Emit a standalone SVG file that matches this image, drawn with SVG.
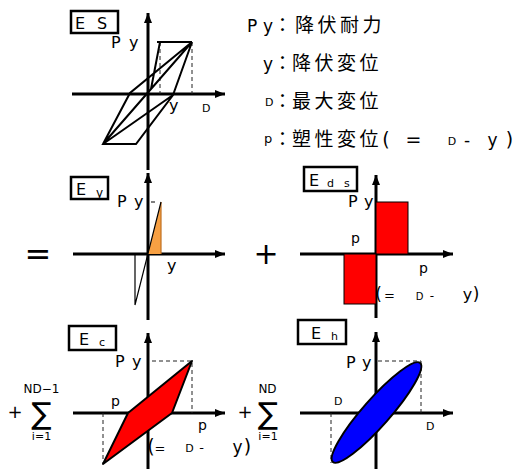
<svg xmlns="http://www.w3.org/2000/svg" width="525" height="469" viewBox="0 0 525 469">
<defs>
<marker id="arr" markerUnits="userSpaceOnUse" markerWidth="12" markerHeight="10" refX="10" refY="5" orient="auto">
<path d="M0,1 L10,5 L0,9 Z" fill="#000"/>
</marker>
<style>
.ax{stroke:#000;stroke-width:3;fill:none;marker-end:url(#arr)}
.ln{stroke:#000;stroke-width:2;fill:none}
.ds{stroke:#222;stroke-width:1;stroke-dasharray:4,3;fill:none}
.box{fill:#fff;stroke:#000;stroke-width:2.5}
.t{font-family:"DejaVu Sans",sans-serif;fill:#000}
.j{font-family:"Noto Sans CJK JP","Noto Sans CJK SC",sans-serif;fill:#000;font-size:19px;letter-spacing:3.5px}
.m{text-anchor:middle}
</style>
</defs>
<rect width="525" height="469" fill="#fff"/>

<!-- legend -->
<g id="legend">
<text class="t" x="247" y="32" font-size="17">P</text>
<text class="t" x="263" y="32" font-size="17">y</text>
<text class="j m" x="282.5" y="32" style="letter-spacing:0">：</text>
<text class="j" x="295" y="32">降伏耐力</text>
<text class="t" x="263" y="70" font-size="17">y</text>
<text class="j m" x="282.5" y="70" style="letter-spacing:0">：</text>
<text class="j" x="292" y="70">降伏変位</text>
<text class="t" x="265" y="106" font-size="11">D</text>
<text class="j m" x="282.5" y="108" style="letter-spacing:0">：</text>
<text class="j" x="292" y="108">最大変位</text>
<text class="t" x="264" y="143" font-size="13">p</text>
<text class="j m" x="282.5" y="146" style="letter-spacing:0">：</text>
<text class="j" x="292" y="146">塑性変位</text>
<text class="t m" x="386" y="146" font-size="19">(</text>
<text class="t m" x="413.5" y="146" font-size="19">=</text>
<text class="t m" x="452" y="145" font-size="11">D</text>
<text class="t m" x="467" y="146" font-size="17">-</text>
<text class="t m" x="492.5" y="146" font-size="17">y</text>
<text class="t m" x="509.5" y="146" font-size="19">)</text>
</g>

<!-- connectors: axes -->
<g id="connectors">
<path class="ax" d="M148,170 V13"/>
<path class="ax" d="M72,94 H225"/>
<path class="ax" d="M148,320 V173"/>
<path class="ax" d="M73,254 H225"/>
<path class="ax" d="M376,318 V175"/>
<path class="ax" d="M300,254 H453"/>
<path class="ax" d="M148,469 V333"/>
<path class="ax" d="M73,413 H225"/>
<path class="ax" d="M376,469 V332"/>
<path class="ax" d="M300,413 H453"/>
</g>

<!-- ES -->
<g id="ES">
<path class="ds" d="M160,42 V94 M192,42 V94"/>
<path class="ln" d="M157,42 H192 M160,42 L151,89 M192,42 L173,95 L136,144 H103 L130,93 L192,42 L103,144 L173,95"/>
<rect class="box" x="71" y="11" width="47" height="22"/>
<text class="t" x="75" y="29" font-size="16">E</text>
<text class="t" x="97" y="29" font-size="16">S</text>
<text class="t" x="111" y="48" font-size="16">P</text>
<text class="t" x="129" y="48" font-size="16">y</text>
<text class="t" x="169" y="111" font-size="16">y</text>
<text class="t" x="202" y="112" font-size="11">D</text>
</g>

<!-- Ey -->
<g id="Ey">
<polygon points="148,254 161,202 161,254" fill="#f7a043"/>
<path d="M161,202 V254" stroke="#c07020" stroke-width="1.2" fill="none"/>
<path d="M161,202 L135,305 M135,254 V305 M151,202 H155" stroke="#000" stroke-width="1.2" fill="none"/>
<rect class="box" x="71" y="177" width="37" height="22"/>
<text class="t" x="76" y="195" font-size="16">E</text>
<text class="t" x="96" y="197" font-size="12">y</text>
<text class="t" x="117" y="207" font-size="16">P</text>
<text class="t" x="134" y="207" font-size="16">y</text>
<text class="t" x="167" y="271" font-size="16">y</text>
<text class="t" x="38" y="265" font-size="32" text-anchor="middle">=</text>
</g>

<!-- Eds -->
<g id="Eds">
<rect x="376" y="202" width="32" height="52" fill="#ff0000" stroke="#000" stroke-width="1"/>
<rect x="344" y="254" width="32" height="50" fill="#ff0000" stroke="#000" stroke-width="1"/>
<rect class="box" x="304" y="167" width="53" height="24"/>
<text class="t" x="309" y="186" font-size="16">E</text>
<text class="t" x="327" y="187" font-size="11">d</text>
<text class="t" x="344" y="187" font-size="11">s</text>
<text class="t" x="348" y="207" font-size="16">P</text>
<text class="t" x="364" y="207" font-size="16">y</text>
<text class="t" x="351" y="243" font-size="14">p</text>
<text class="t" x="419" y="273" font-size="14">p</text>
<text class="t m" x="378.5" y="300" font-size="17">(</text>
<text class="t m" x="389.5" y="300" font-size="13">=</text>
<text class="t m" x="419.5" y="300" font-size="10">D</text>
<text class="t m" x="432" y="300" font-size="12">-</text>
<text class="t m" x="467.5" y="300" font-size="16">y</text>
<text class="t m" x="476" y="300" font-size="17">)</text>
<text class="t m" x="266" y="264" font-size="30">+</text>
</g>

<!-- Ec -->
<g id="Ec">
<path class="ds" d="M152,361 H192 V413 M103,413 V464"/>
<polygon points="128,413 192,361 172,413 103,464" fill="#ff0000" stroke="#000" stroke-width="2" stroke-linejoin="round"/>
<rect class="box" x="69" y="326" width="47" height="24"/>
<text class="t" x="79" y="345" font-size="16">E</text>
<text class="t" x="99" y="346" font-size="11">c</text>
<text class="t" x="115" y="367" font-size="16">P</text>
<text class="t" x="132" y="367" font-size="16">y</text>
<text class="t" x="111" y="406" font-size="14">p</text>
<text class="t" x="198" y="430" font-size="14">p</text>
<text class="t m" x="151" y="453" font-size="19">(</text>
<text class="t m" x="160" y="453" font-size="13">=</text>
<text class="t m" x="189.5" y="452" font-size="11">D</text>
<text class="t m" x="201.5" y="452" font-size="13">-</text>
<text class="t m" x="237.5" y="453" font-size="17">y</text>
<text class="t m" x="247.5" y="453" font-size="19">)</text>
<text class="t m" x="15" y="418" font-size="18">+</text>
<text class="t m" x="41.5" y="424" font-size="30">∑</text>
<text class="t m" x="41.5" y="393" font-size="12">ND−1</text>
<text class="t m" x="41.5" y="440" font-size="11">i=1</text>
</g>

<!-- Eh -->
<g id="Eh">
<path class="ds" d="M378,361 H421 V413 M331,413 V463"/>
<ellipse cx="376.5" cy="412.5" rx="66" ry="13.5" transform="rotate(-48.6 376.5 412.5)" fill="#0000ff" stroke="#000" stroke-width="2"/>
<rect class="box" x="298" y="320" width="48" height="24"/>
<text class="t" x="311" y="339" font-size="16">E</text>
<text class="t" x="331" y="340" font-size="11">h</text>
<text class="t" x="346" y="368" font-size="16">P</text>
<text class="t" x="362" y="368" font-size="16">y</text>
<text class="t" x="334" y="405" font-size="11">D</text>
<text class="t" x="426" y="430" font-size="11">D</text>
<text class="t m" x="245" y="418" font-size="18">+</text>
<text class="t m" x="268" y="424" font-size="30">∑</text>
<text class="t m" x="267.5" y="393" font-size="12">ND</text>
<text class="t m" x="268" y="440" font-size="11">i=1</text>
</g>
</svg>
